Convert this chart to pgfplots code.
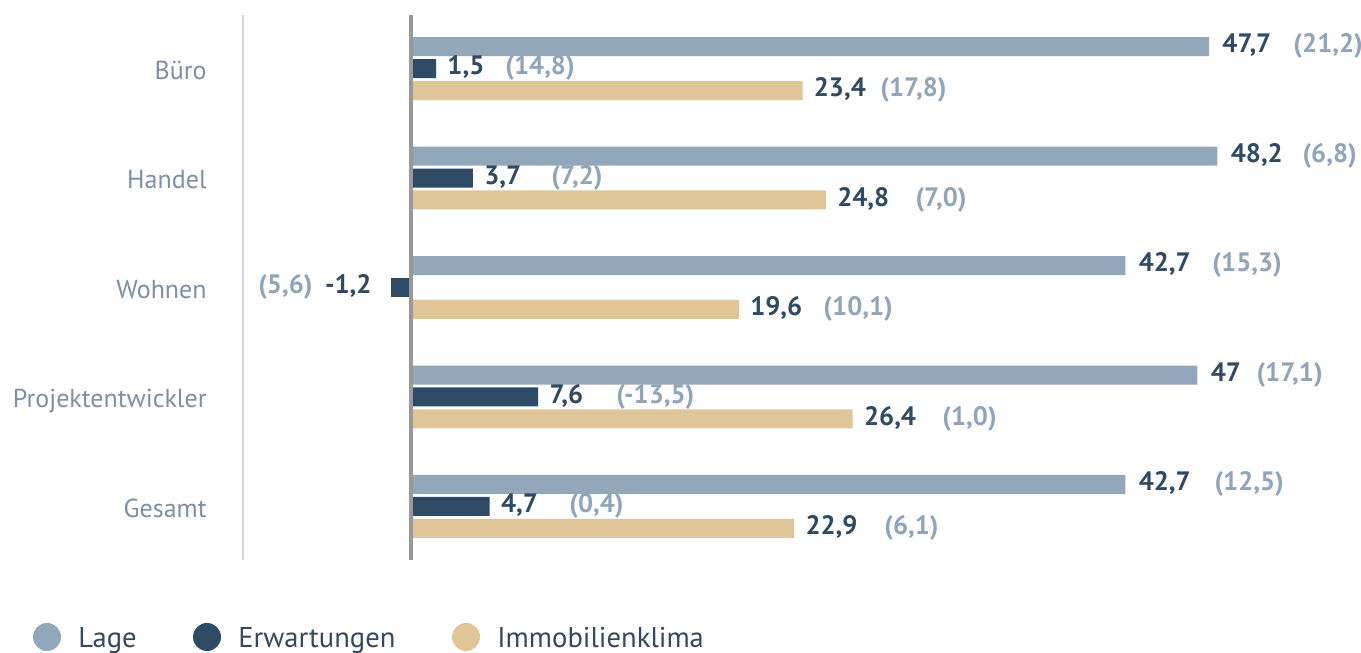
\documentclass[border=0pt]{standalone}
\usepackage{fontspec}
\setmainfont{PT Sans}
\usepackage{pgfplots}
\pgfplotsset{compat=1.18}
\definecolor{lage}{HTML}{93A7BA}
\definecolor{erw}{HTML}{2E4A65}
\definecolor{immo}{HTML}{E0C598}
\definecolor{paren}{HTML}{8FA5BB}
\definecolor{cat}{HTML}{7B90A4}
\definecolor{zeroline}{HTML}{999999}
\definecolor{leftline}{HTML}{C9D6EC}
\definecolor{legtext}{HTML}{34495E}
\tikzset{
  vallab/.style={font=\fontsize{13.3}{15}\selectfont\bfseries, text=erw, inner sep=0pt, text height=1.5ex, text depth=0.25ex},
  parlab/.style={font=\fontsize{13.3}{15}\selectfont\bfseries, text=paren, inner sep=0pt, text height=1.5ex, text depth=0.25ex, anchor=west},
}
\begin{document}
\begin{tikzpicture}
\begin{axis}[
  at={(121.5pt,46.5pt)}, anchor=south west,
  scale only axis, width=559pt, height=272.5pt,
  xmin=-10.04, xmax=56.78, ymin=-0.49, ymax=4.49, y dir=reverse,
  clip=false,
  axis line style={draw=none},
  xtick=\empty,
  ytick={0,1,2,3,4},
  yticklabels={Büro,Handel,Wohnen,Projektentwickler,Gesamt},
  major tick length=0pt,
  yticklabel style={font=\fontsize{13}{15}\selectfont, text=cat, inner sep=0pt, text height=1.5ex, text depth=0.25ex, anchor=east, xshift=-18pt, yshift=-2.2pt},
  /pgf/number format/fixed,
  /pgf/number format/use comma,
  /pgf/number format/precision=1,
  /pgf/number format/assume math mode=true,
]
% Lage
\addplot[xbar, bar shift=0pt, bar width=9.5pt, fill=lage, draw=none,
  point meta=x, nodes near coords,
  nodes near coords style={vallab, anchor=west, xshift=6.5pt}]
  coordinates {(47.7,-0.2) (48.2,0.8) (42.7,1.8) (47,2.8) (42.7,3.8)};
% Erwartungen (positive)
\addplot[xbar, bar shift=0pt, bar width=9.5pt, fill=erw, draw=none,
  point meta=x, nodes near coords,
  nodes near coords style={vallab, anchor=west, xshift=5.5pt}]
  coordinates {(1.5,0) (3.7,1) (7.6,3) (4.7,4)};
% Erwartungen (negative)
\addplot[xbar, bar shift=0pt, bar width=9.5pt, fill=erw, draw=none,
  point meta=x, nodes near coords,
  nodes near coords style={vallab, anchor=east, xshift=-9.5pt}]
  coordinates {(-1.2,2)};
% Immobilienklima
\addplot[xbar, bar shift=0pt, bar width=9.5pt, fill=immo, draw=none,
  point meta=x, nodes near coords,
  nodes near coords style={vallab, anchor=west, xshift=5.5pt}]
  coordinates {(23.4,0.2) (24.8,1.2) (19.6,2.2) (26.4,3.2) (22.9,4.2)};
% previous-value labels
\node[parlab] at (axis cs:52.72,-0.2) {(21,2)};
\node[parlab] at (axis cs:5.62,0) {(14,8)};
\node[parlab] at (axis cs:28.03,0.2) {(17,8)};
\node[parlab] at (axis cs:53.26,0.8) {(6,8)};
\node[parlab] at (axis cs:8.37,1) {(7,2)};
\node[parlab] at (axis cs:30.13,1.2) {(7,0)};
\node[parlab] at (axis cs:47.88,1.8) {(15,3)};
\node[parlab, anchor=east] at (axis cs:-5.86,2) {(5,6)};
\node[parlab] at (axis cs:24.63,2.2) {(10,1)};
\node[parlab] at (axis cs:50.51,2.8) {(17,1)};
\node[parlab] at (axis cs:12.25,3) {(-13,5)};
\node[parlab] at (axis cs:31.74,3.2) {(1,0)};
\node[parlab] at (axis cs:48.0,3.8) {(12,5)};
\node[parlab] at (axis cs:9.44,4) {(0,4)};
\node[parlab] at (axis cs:28.27,4.2) {(6,1)};
% lines
\draw[leftline, line width=1pt] (rel axis cs:0,0) -- (rel axis cs:0,1);
\draw[zeroline, line width=2pt] (axis cs:0,-0.49) -- (axis cs:0,4.49);
\end{axis}
% legend
\fill[lage] (23.5pt,8pt) circle (7pt);
\node[anchor=base west, inner sep=0pt, text=legtext, font=\fontsize{14.3}{16}\selectfont] at (39pt,2.5pt) {Lage};
\fill[erw] (103.5pt,8pt) circle (7pt);
\node[anchor=base west, inner sep=0pt, text=legtext, font=\fontsize{14.3}{16}\selectfont] at (119pt,2.5pt) {Erwartungen};
\fill[immo] (233pt,8pt) circle (7pt);
\node[anchor=base west, inner sep=0pt, text=legtext, font=\fontsize{14.3}{16}\selectfont] at (248.5pt,2.5pt) {Immobilienklima};
\pgfresetboundingbox
\path[use as bounding box] (0pt,0pt) rectangle (680.5pt,326.5pt);
\end{tikzpicture}
\end{document}
